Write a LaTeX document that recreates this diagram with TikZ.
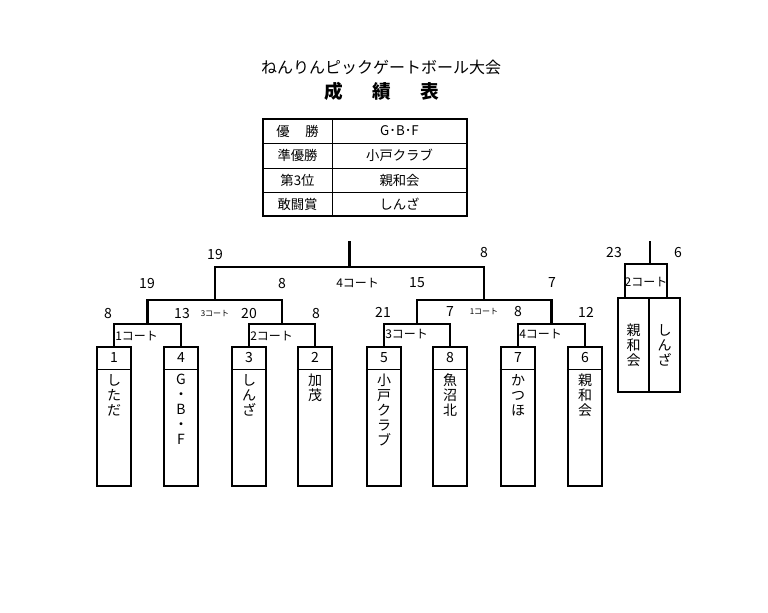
\documentclass[tikz,border=0pt]{standalone}
\usepackage{fontspec}
\setmainfont{Noto Sans CJK JP}
\begin{document}
\begin{tikzpicture}[x=0.75pt,y=-0.75pt,
  nl/.style={line width=0.8pt,line cap=rect},
  wl/.style={line width=1.7pt,line cap=rect},
  team/.style={draw,line width=1.7pt,minimum width=25.5pt,minimum height=104.25pt,inner sep=0},
  tpbox/.style={draw,line width=1.7pt,minimum width=23.25pt,minimum height=70.5pt,inner sep=0},
  score/.style={font=\fontsize{10.5}{12}\selectfont,inner sep=0},
  court/.style={font=\fontsize{9}{10}\selectfont,inner sep=0,anchor=west},
  scourt/.style={font=\fontsize{6}{7}\selectfont,inner sep=0},
  seed/.style={font=\fontsize{10.5}{12}\selectfont,inner sep=0},
  vname/.style={font=\fontsize{10.5}{11.25}\selectfont,inner sep=0,align=center,anchor=north},
  cell/.style={font=\fontsize{10}{12}\selectfont,inner sep=0}]
\useasboundingbox (0,0) rectangle (768,613);
\fill[white] (0,0) rectangle (768,613);
% title
\node[font=\fontsize{12}{14}\selectfont,inner sep=0] (title) at (381,67) {ねんりんピックゲートボール大会};
\node[font=\fontsize{14}{16}\selectfont\bfseries,inner sep=0] (t1c) at (334,91) {成};
\node[font=\fontsize{14}{16}\selectfont\bfseries,inner sep=0] (t2c) at (382,91) {績};
\node[font=\fontsize{14}{16}\selectfont\bfseries,inner sep=0] (t3c) at (430,91) {表};
% result table
\draw[line width=1.1pt] (263,119) rectangle (467,216);
\draw[line width=0.7pt] (332,119) -- (332,216);
\draw[line width=0.7pt] (263,143.5) -- (467,143.5);
\draw[line width=0.7pt] (263,168) -- (467,168);
\draw[line width=0.7pt] (263,192) -- (467,192);
\node[cell] (ra) at (283,131) {優};
\node[cell] (rb) at (312,131) {勝};
\node[cell] (rc) at (399.5,131) {G･B･F};
\node[cell] (rd) at (297.5,155.5) {準優勝};
\node[cell] (re) at (399.5,155.5) {小戸クラブ};
\node[cell] (rf) at (297.5,180) {第3位};
\node[cell] (rg) at (399.5,180) {親和会};
\node[cell] (rh) at (297.5,204) {敢闘賞};
\node[cell] (ri) at (399.5,204) {しんざ};
% team boxes
\foreach \n/\x/\s/\nm in {b1/114/1/し\\た\\だ, b4/181/4/G\\・\\B\\・\\F, b3/249/3/し\\ん\\ざ, b2/315/2/加\\茂,
  b5/384/5/小\\戸\\ク\\ラ\\ブ, b8/450/8/魚\\沼\\北, b7/518/7/か\\つ\\ほ, b6/585/6/親\\和\\会}{
  \node[team] (\n) at (\x,416.5) {};
  \draw[line width=0.8pt] ([yshift=-18pt]\n.north west) -- ([yshift=-18pt]\n.north east);
  \node[seed] (\n s) at ([yshift=-9pt]\n.north) {\s};
  \node[vname] (\n t) at ([yshift=-21pt]\n.north) {\nm};
}
% junctions
\coordinate (j1) at (147.5,324);
\coordinate (j2) at (282,324);
\coordinate (j3) at (417,324);
\coordinate (j4) at (551.5,324);
\coordinate (s1) at (214.75,300);
\coordinate (s2) at (484.25,300);
\coordinate (f) at (349.5,267);
\coordinate (fr) at (484.25,267);
\coordinate (top) at (349.5,242);
\coordinate (sr) at (551.5,300);
% round 1
\draw[nl] (b1.north) |- (j1);
\draw[wl] (j1) -| (b4.north);
\draw[wl] (b3.north) |- (j2);
\draw[nl] (j2) -| (b2.north);
\draw[wl] (b5.north) |- (j3);
\draw[nl] (j3) -| (b8.north);
\draw[nl] (b7.north) |- (j4);
\draw[wl] (j4) -| (b6.north);
% semis
\draw[wl] (j1) |- (s1);
\draw[wl] (s1) -| (j2);
\draw[wl] (j3) |- (s2);
\draw[nl] (s2) -- (sr);
\draw[wl] (sr) -- (j4);
% final
\draw[wl] (s1) |- (f);
\draw[nl] (f) -- (fr);
\draw[wl] (fr) -- (s2);
\draw[wl] (f) -- (top);
% scores and courts
\node[score] (sc1) at (215,255) {19};
\node[score] (sc2) at (484,253) {8};
\node[court] (c4) at (336,283) {4コート};
\node[score] (sc3) at (147,284) {19};
\node[score] (sc4) at (282,284) {8};
\node[score] (sc5) at (417,283) {15};
\node[score] (sc6) at (552,283) {7};
\node[score] (sc7) at (108,314) {8};
\node[score] (sc8) at (182,314) {13};
\node[scourt] (c3s) at (215,314) {3コート};
\node[score] (sc9) at (249,314) {20};
\node[score] (sc10) at (316,314) {8};
\node[score] (sc11) at (383,312) {21};
\node[score] (sc12) at (450,312) {7};
\node[scourt] (c1s) at (484,312) {1コート};
\node[score] (sc13) at (518,312) {8};
\node[score] (sc14) at (586,312) {12};
\node[court] (c1) at (115,336) {1コート};
\node[court] (c2) at (250,336) {2コート};
\node[court] (c3) at (385,334) {3コート};
\node[court] (c4b) at (519,334) {4コート};
% third place match
\node[tpbox] (tA) at (633.5,345) {};
\node[tpbox] (tB) at (664.5,345) {};
\node[vname,anchor=center] (tAt) at (tA.center) {親\\和\\会};
\node[vname,anchor=center] (tBt) at (tB.center) {し\\ん\\ざ};
\coordinate (tpf) at (650,264);
\coordinate (tptop) at (650,242);
\coordinate (tpl) at (625,264);
\coordinate (tpr) at (667,264);
\draw[nl] (tpf) -- (tptop);
\draw[nl] (tpl) -- (tpr);
\draw[wl] (tpl) -- (tpl |- tA.north);
\draw[nl] (tpr) -- (tpr |- tB.north);
\node[score] (sc15) at (614,253) {23};
\node[score] (sc16) at (678,253) {6};
\node[font=\fontsize{9}{10}\selectfont,inner sep=0] (c2t) at (646,282) {2コート};
\end{tikzpicture}
\end{document}
